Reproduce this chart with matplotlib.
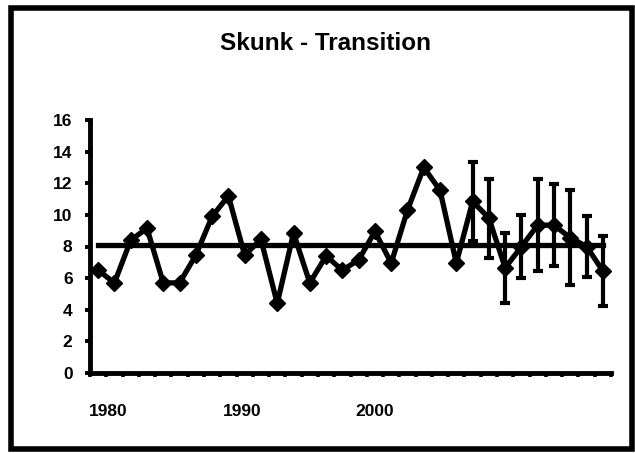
import numpy as np
import matplotlib
matplotlib.use("Agg")
import matplotlib.pyplot as plt
from matplotlib.patches import Rectangle

plt.rcParams['font.family'] = ['Liberation Sans', 'DejaVu Sans']

years = list(range(1978, 2010))
counts = [6.5, 5.7, 8.4, 9.15, 5.7, 5.7, 7.45, 9.9, 11.2, 7.45, 8.45, 4.4,
          8.85, 5.7, 7.4, 6.5, 7.15, 8.95, 6.95, 10.3, 13.0, 11.55, 6.95,
          10.85, 9.8, 6.65, 8.0, 9.35, 9.35, 8.55, 8.0, 6.45]
err_years = list(range(2001, 2010))
err_size = [2.5, 2.5, 2.2, 2.0, 2.9, 2.6, 3.0, 1.95, 2.2]
mean_level = 8.1
title = "Skunk - Transition"
ytick_vals = [0, 2, 4, 6, 8, 10, 12, 14, 16]
xlabel_pos = [1978.6, 1986.85, 1995.0]
xlabel_txt = ["1980", "1990", "2000"]

fig = plt.figure(figsize=(6.35, 4.53), dpi=100)
ax = fig.add_axes([90/635, 1 - 373/453, 521/635, 253/453])

err_counts = [counts[years.index(y)] for y in err_years]
ax.errorbar(err_years, err_counts, yerr=err_size, fmt='none', ecolor='black',
            elinewidth=3, capsize=3.3, capthick=3, zorder=1)
ax.plot(years, counts, color='black', lw=3.8, marker='D', ms=8.5, zorder=3)
ax.plot([years[0], years[-1]], [mean_level, mean_level], color='black', lw=3.8, zorder=2)

ax.set_xlim(years[0] - 0.5, years[-1] + 0.5)
ax.set_ylim(0, 16)
ax.set_yticks(ytick_vals)
ax.set_xticks(xlabel_pos, xlabel_txt)
ax.set_xticks(np.arange(years[0] - 0.5, years[-1] + 1.0, 1.0), minor=True)

for s in ['top', 'right']:
    ax.spines[s].set_visible(False)
for s in ['left', 'bottom']:
    ax.spines[s].set_linewidth(3.5)

ax.tick_params(axis='y', length=3.6, width=2.8, pad=9, labelsize=12.5)
ax.tick_params(axis='x', which='major', length=0, pad=22, labelsize=12.5)
ax.tick_params(axis='x', which='minor', length=3.2, width=2.6, direction='out')
for lab in ax.get_xticklabels() + ax.get_yticklabels():
    lab.set_fontweight('bold')

fig.text(325/635, 1 - 43/453, title, ha='center', va='center',
         fontsize=17.5, fontweight='bold')

fig.patches.append(Rectangle((11/635, 4/453), 621/635, 441/453,
                             transform=fig.transFigure, fill=False,
                             edgecolor='black', lw=4))

fig.savefig("out.png", dpi=100)
